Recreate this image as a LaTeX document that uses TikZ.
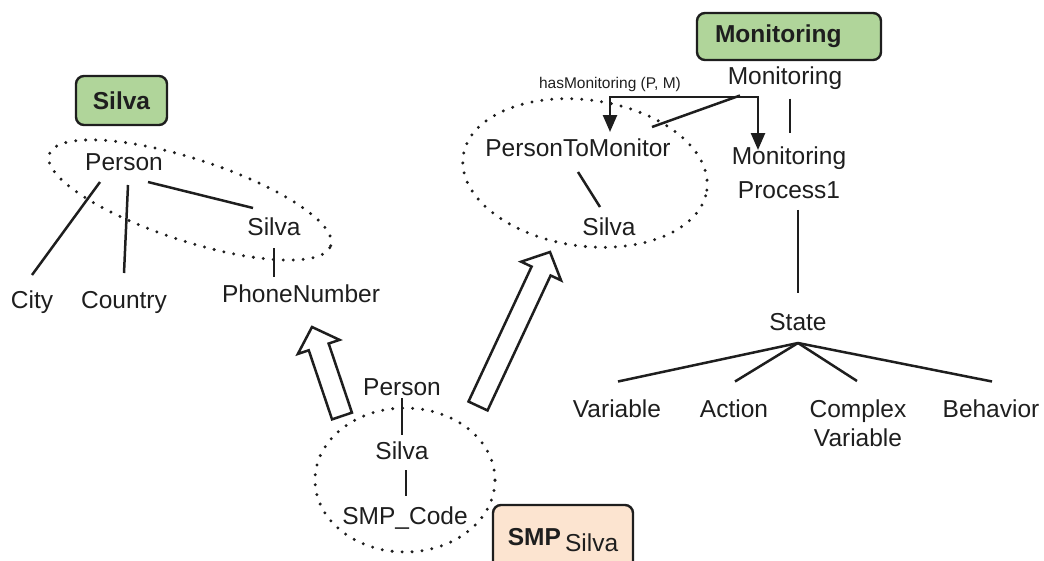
\documentclass[tikz,border=0pt]{standalone}
\usepackage{fontspec}
\setmainfont{Liberation Sans}
\usetikzlibrary{calc,shapes.geometric,arrows.meta}
\definecolor{boxgreen}{HTML}{B0D59A}
\definecolor{boxpeach}{HTML}{FCE4D0}
\definecolor{ink}{HTML}{1E1E1E}
\newcommand\drawblockarrow[2]{%
  \path ($(#2)!21pt!(#1)$) coordinate (#2b);
  \draw[blockarr] ($(#1)!10.5pt!90:(#2)$) -- ($(#2b)!10.5pt!90:(#2)$) -- ($(#2b)!22pt!90:(#2)$)
     -- (#2) -- ($(#2b)!22pt!-90:(#2)$) -- ($(#2b)!10.5pt!-90:(#2)$) -- ($(#1)!10.5pt!-90:(#2)$) -- cycle;
}
\begin{document}
\begin{tikzpicture}[x=1pt,y=-1pt,
  lbl/.style={font=\fontsize{24.5}{29}\selectfont, inner sep=0pt, anchor=base, text=ink},
  twoline/.style={inner sep=0pt, anchor=north, align=center, text=ink},
  conn/.style={line width=2.5pt, draw=ink},
  dotell/.style={ellipse, draw=ink, line width=3.3pt, line cap=round, dash pattern=on 0pt off 10pt, inner sep=0pt},
  tagbox/.style={draw=ink, line width=2.4pt, rounded corners=8pt, text=ink, font=\fontsize{24.5}{29}\selectfont\bfseries},
  blockarr/.style={draw=ink, line width=2.5pt, fill=white, line join=miter},
  tri/.tip={Triangle[length=17pt,width=14pt]}
]
\useasboundingbox (0,0) rectangle (1044,560);

% dotted groupings
\node[dotell, minimum width=296pt, minimum height=82pt, rotate=-18] (ellL) at (190,200) {};
\node[dotell, minimum width=246pt, minimum height=146pt, rotate=-8] (ellM) at (585,173) {};
\node[dotell, minimum width=180pt, minimum height=144pt] (ellB) at (405,480) {};

% tag boxes
\node[tagbox, fill=boxgreen, minimum width=91pt, minimum height=49pt] (tagS) at (121.5,100.5) {Silva};
\node[tagbox, fill=boxgreen, minimum width=184pt, minimum height=47pt, text width=148pt, inner xsep=18pt, align=left] (tagM) at (789,36.5) {Monitoring};
\node[tagbox, fill=boxpeach, minimum width=140pt, minimum height=70pt, font=\fontsize{24.5}{29}\selectfont] (tagP) at (563,540) {\textbf{SMP}\,\raisebox{-6pt}{Silva}};

% left group
\node[lbl] (pL) at (124,170) {Person};
\node[lbl] (sL) at (274,235) {Silva};
\node[lbl] (city) at (32,308) {City};
\node[lbl] (country) at (124,308) {Country};
\node[lbl] (phone) at (301,302) {PhoneNumber};
\draw[conn] ($(pL.base)+(-24,12)$) -- ($(city.base)+(0,-33)$);
\draw[conn] ($(pL.base)+(4,15)$) -- ($(country.base)+(0,-35)$);
\draw[conn] ($(pL.base)+(24,12)$) -- ($(sL.base)+(-21,-27)$);
\draw[conn] ($(sL.base)+(0,13)$) -- ($(phone.base)+(-27,-25)$);

% middle group
\node[lbl] (ptm) at (578,156) {PersonToMonitor};
\node[lbl] (sM) at (609,235) {Silva};
\node[lbl] (mon) at (785,84.5) {Monitoring};
\node[twoline, font=\fontsize{24.5}{33.5}\selectfont] (mp) at (789,147) {Monitoring\\Process1};
\node[lbl, font=\fontsize{15.5}{18}\selectfont] (hm) at (610,88) {hasMonitoring (P, M)};
\draw[conn] ($(ptm.base)+(0,16)$) -- ($(sM.base)+(-9,-28)$);
\coordinate (relL) at (610,97);
\coordinate (relR) at (758,97);
\draw[conn, line join=miter, {tri}-{tri}] ($(ptm.base)+(32,-24)$) -- (relL) -- (relR) -- ($(mp.north)+(-31,3)$);
\draw[conn] ($(mon.base)+(-45,11)$) -- ($(ptm.base)+(74,-29)$);
\draw[conn] ($(mon.base)+(5,14)$) -- ($(mp.north)+(1,-14)$);

% right group
\node[lbl] (state) at (798,330) {State};
\node[lbl] (var) at (617,417.5) {Variable};
\node[lbl] (act) at (734,417.5) {Action};
\node[twoline, font=\fontsize{24.5}{28.5}\selectfont] (cv) at (858,400) {Complex\\Variable};
\node[lbl] (beh) at (991,417.5) {Behavior};
\draw[conn] ($(mp.south)+(9,11)$) -- ($(state.base)+(0,-37)$);
\draw[conn] ($(state.base)+(0,13)$) -- ($(var.base)+(1,-36)$);
\draw[conn] ($(state.base)+(0,13)$) -- ($(act.base)+(1,-36)$);
\draw[conn] ($(state.base)+(0,13)$) -- ($(cv.north)+(-1,-19)$);
\draw[conn] ($(state.base)+(0,13)$) -- ($(beh.base)+(1,-36)$);

% bottom group
\node[lbl] (pB) at (402,395) {Person};
\node[lbl] (sB) at (402,459) {Silva};
\node[lbl] (code) at (405,524.5) {SMP\_Code};
\draw[conn] ($(pB.base)+(0,3)$) -- ($(sB.base)+(0,-24)$);
\draw[conn] ($(sB.base)+(4,11)$) -- ($(code.base)+(1,-29)$);

% block arrows
\coordinate (baLt) at (342,416);
\coordinate (baLh) at (312,327);
\coordinate (baRt) at (478,406);
\coordinate (baRh) at (550,252);
\drawblockarrow{baLt}{baLh}
\drawblockarrow{baRt}{baRh}
\end{tikzpicture}
\end{document}
